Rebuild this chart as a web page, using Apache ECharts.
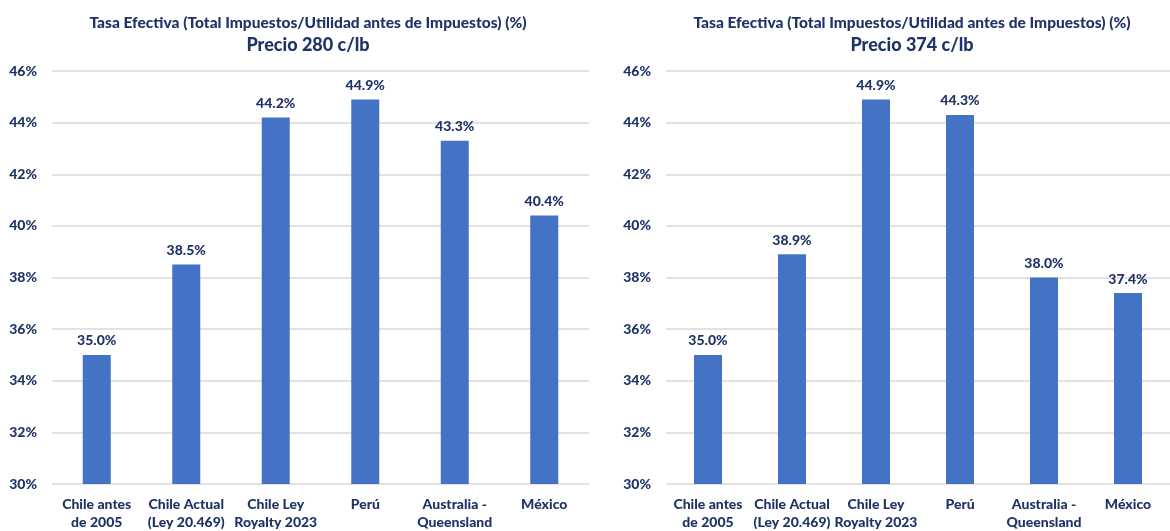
<!DOCTYPE html>
<html>
<head>
<meta charset="utf-8">
<script src="https://cdn.jsdelivr.net/npm/echarts@6/dist/echarts.min.js"></script>
<style>
html,body{margin:0;padding:0;background:#fff;}
#chart{width:1170px;height:531px;}
</style>
</head>
<body>
<div id="chart"></div>
<script>
var categories = ["Chile antes\nde 2005", "Chile Actual\n(Ley 20.469)", "Chile Ley\nRoyalty 2023", "Perú", "Australia -\nQueensland", "México"];
var valuesPrecio280 = [35.0, 38.5, 44.2, 44.9, 43.3, 40.4];
var valuesPrecio374 = [35.0, 38.9, 44.9, 44.3, 38.0, 37.4];
var titleMain = "Tasa Efectiva (Total Impuestos/Utilidad antes de Impuestos) (%)";
var subtitleLeft = "Precio 280 c/lb";
var subtitleRight = "Precio 374 c/lb";
var yMin = 30, yMax = 46, yStep = 2;

var FONT = "Lato";
var W = 900;
var TXT = "#1F3366";
var BAR = "#4472C4";

function yAxisCfg(idx){
  return {
    type: 'value', gridIndex: idx, min: yMin, max: yMax, interval: yStep,
    axisLabel: {formatter: '{value}%', color: TXT, fontFamily: FONT, fontWeight: W, fontSize: 14, margin: 15},
    splitLine: {lineStyle: {color: '#D9D9D9', width: 1.5}},
    axisLine: {show: false}, axisTick: {show: false}
  };
}
function xAxisCfg(idx){
  return {
    type: 'category', gridIndex: idx, data: categories,
    axisLine: {show: false}, axisTick: {show: false},
    axisLabel: {color: TXT, fontFamily: FONT, fontWeight: W, fontSize: 14, lineHeight: 18, margin: 11, interval: 0}
  };
}
function seriesCfg(idx, data){
  return {
    type: 'bar', xAxisIndex: idx, yAxisIndex: idx, data: data, barWidth: 28,
    itemStyle: {color: BAR},
    label: {show: true, position: 'top', distance: 7, color: TXT, fontFamily: FONT, fontWeight: W, fontSize: 14,
      formatter: function(p){ return p.value.toFixed(1) + '%'; }}
  };
}
var chart = echarts.init(document.getElementById('chart'), null, {renderer: 'canvas'});
chart.setOption({
  animation: false,
  backgroundColor: '#ffffff',
  title: [
    {text: titleMain, left: 303, top: 10, textAlign: 'center', textStyle: {color: TXT, fontFamily: FONT, fontWeight: W, fontSize: 15.5}},
    {text: subtitleLeft, left: 303, top: 31, textAlign: 'center', textStyle: {color: TXT, fontFamily: FONT, fontWeight: W, fontSize: 18}},
    {text: titleMain, left: 907, top: 10, textAlign: 'center', textStyle: {color: TXT, fontFamily: FONT, fontWeight: W, fontSize: 15.5}},
    {text: subtitleRight, left: 907, top: 31, textAlign: 'center', textStyle: {color: TXT, fontFamily: FONT, fontWeight: W, fontSize: 18}}
  ],
  grid: [
    {left: 52, top: 71, width: 537, height: 415},
    {left: 666, top: 71, width: 520, height: 415}
  ],
  xAxis: [xAxisCfg(0), xAxisCfg(1)],
  yAxis: [yAxisCfg(0), yAxisCfg(1)],
  series: [seriesCfg(0, valuesPrecio280), seriesCfg(1, valuesPrecio374)]
});
</script>
</body>
</html>
